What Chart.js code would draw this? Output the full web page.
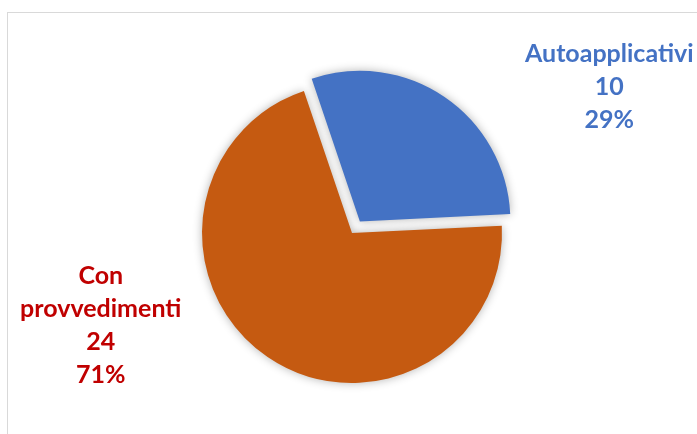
<!DOCTYPE html>
<html>
<head>
<meta charset="utf-8">
<script src="https://cdn.jsdelivr.net/npm/chart.js@4.4.1/dist/chart.umd.min.js"></script>
<style>
  html, body { margin: 0; padding: 0; background: #ffffff; }
  #wrap { position: relative; width: 697px; height: 434px; }
  #frame { position: absolute; left: 7px; top: 12px; width: 700px; height: 440px; border: 1.5px solid #d9d9d9; box-sizing: border-box; }
  canvas { position: absolute; left: 0; top: 0; }
</style>
</head>
<body>
<div id="wrap">
  <div id="frame"></div>
  <canvas id="c" width="697" height="434"></canvas>
</div>
<script>
const categories = ["Autoapplicativi", "Con provvedimenti"];
const labelLines = [["Autoapplicativi"], ["Con", "provvedimenti"]];
const values = [10, 24];
const percents = ["29%", "71%"];
const sliceColors = ["#4472C4", "#C55A11"];
const labelColors = ["#4472C4", "#C00000"];
// Chart.js v4 draws arc offset / 4 pixels away from the centre
const explode = [56, 0];
// label anchor relative to pie centre, in units of radius
const labelAnchors = [[1.715, -0.973], [-1.675, 0.617]];

const shadowPlugin = {
  id: 'softShadow',
  beforeDatasetDraw(chart) {
    const ctx = chart.ctx;
    ctx.save();
    ctx.shadowColor = 'rgba(0,0,0,0.3)';
    ctx.shadowBlur = 10;
    ctx.shadowOffsetX = 0;
    ctx.shadowOffsetY = 0;
  },
  afterDatasetDraw(chart) {
    chart.ctx.restore();
  }
};

const labelPlugin = {
  id: 'excelLabels',
  afterDraw(chart) {
    const ctx = chart.ctx;
    const meta = chart.getDatasetMeta(0);
    const ref = meta.data[1];
    const cx = ref.x, cy = ref.y, R = ref.outerRadius;
    const lh = 33;
    ctx.save();
    ctx.font = 'bold 25px Lato, "Open Sans", sans-serif';
    ctx.textAlign = 'center';
    ctx.textBaseline = 'middle';
    values.forEach((v, i) => {
      const lines = labelLines[i].concat([String(v), percents[i]]);
      const ax = cx + labelAnchors[i][0] * R;
      const ay = cy + labelAnchors[i][1] * R;
      const top = ay - (lines.length - 1) * lh / 2;
      ctx.fillStyle = labelColors[i];
      lines.forEach((t, k) => ctx.fillText(t, ax, top + k * lh));
    });
    ctx.restore();
  }
};

new Chart(document.getElementById('c'), {
  type: 'pie',
  data: {
    labels: categories,
    datasets: [{
      data: values,
      backgroundColor: sliceColors,
      borderWidth: 0,
      offset: explode
    }]
  },
  options: {
    responsive: false,
    animation: false,
    rotation: -18.7,
    layout: { padding: { left: 7, right: 0, top: 55, bottom: 23 } },
    plugins: {
      legend: { display: false },
      tooltip: { enabled: false }
    }
  },
  plugins: [shadowPlugin, labelPlugin]
});
</script>
</body>
</html>
